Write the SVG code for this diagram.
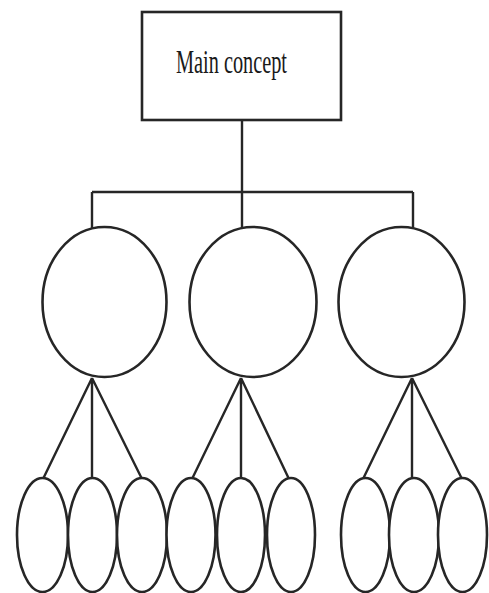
<svg xmlns="http://www.w3.org/2000/svg" width="489" height="593" viewBox="0 0 489 593">
<style>
.n{fill:#fff;stroke:#262626;stroke-width:2.6}
.c{fill:none;stroke:#262626;stroke-width:2.4}
.t{font-family:"Liberation Serif","Times New Roman",serif;font-size:33px;fill:#1a1a1a}
</style>
<rect width="489" height="593" fill="#fff"/>
<g id="connectors" class="c">
<path d="M242 120V229M92 192H413M92 192V231M413 192V231"/>
<path d="M92 378L43 479M92 378V479M92 378L142 479"/>
<path d="M241 378L192 479M241 378V479M241 378L289 479"/>
<path d="M412 378L363 479M412 378V479M412 378L462 479"/>
</g>
<g id="main"><rect class="n" x="142" y="12" width="199" height="108" stroke-width="3"/><text class="t" x="176" y="73" textLength="111" lengthAdjust="spacingAndGlyphs">Main concept</text></g>
<g id="c1"><ellipse class="n" cx="104.5" cy="302" rx="62" ry="75"/></g>
<g id="c2"><ellipse class="n" cx="253" cy="302" rx="63.5" ry="75"/></g>
<g id="c3"><ellipse class="n" cx="401.5" cy="302" rx="63" ry="75"/></g>
<g id="e1"><ellipse class="n" cx="42.5" cy="535" rx="25.5" ry="57"/></g>
<g id="e2"><ellipse class="n" cx="92.5" cy="535" rx="24.5" ry="57"/></g>
<g id="e3"><ellipse class="n" cx="142" cy="535" rx="25" ry="57"/></g>
<g id="e4"><ellipse class="n" cx="191" cy="535" rx="24.5" ry="57"/></g>
<g id="e5"><ellipse class="n" cx="241" cy="535" rx="24" ry="57"/></g>
<g id="e6"><ellipse class="n" cx="291" cy="535" rx="24" ry="57"/></g>
<g id="e7"><ellipse class="n" cx="365.5" cy="535" rx="24.5" ry="57"/></g>
<g id="e8"><ellipse class="n" cx="414" cy="535" rx="25" ry="57"/></g>
<g id="e9"><ellipse class="n" cx="462.5" cy="535" rx="24.5" ry="57"/></g>
</svg>
